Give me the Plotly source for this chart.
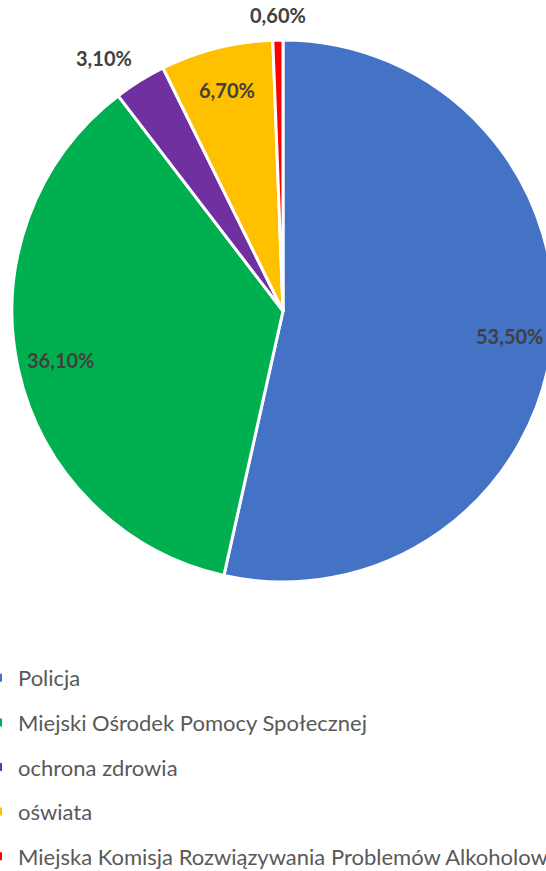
import math
import plotly.graph_objects as go

categories = ["Policja", "Miejski Ośrodek Pomocy Społecznej", "ochrona zdrowia", "oświata",
              "Miejska Komisja Rozwiązywania Problemów Alkoholowych"]
values = [53.5, 36.1, 3.1, 6.7, 0.6]
value_labels = ["53,50%", "36,10%", "3,10%", "6,70%", "0,60%"]
label_outside = [False, False, True, False, True]
colors = ["#4472C4", "#00B050", "#7030A0", "#FFC000", "#FF0000"]

# the figure is a little wider than the 546px window: the pie and the last
# legend entry run past the right edge, as in the reference
W, H = 560, 871
PX0, PX1, PY0, PY1 = 12, 554, 40, 582   # pie domain, pixels
fig = go.Figure()

fig.add_trace(go.Pie(
    labels=categories, values=values,
    textinfo="none",
    marker=dict(colors=colors, line=dict(color="white", width=3)),
    sort=False, direction="clockwise", rotation=0,
    showlegend=False, hoverinfo="label+percent",
    domain=dict(x=[PX0 / W, PX1 / W], y=[1 - PY1 / H, 1 - PY0 / H]),
))

# data labels placed along each slice's mid angle
cx = (PX0 + PX1) / 2
cy = (PY0 + PY1) / 2
R = min(PX1 - PX0, PY1 - PY0) / 2
total = sum(values)
cum = 0
for v, lab, out in zip(values, value_labels, label_outside):
    mid = (cum + v / 2) / total * 2 * math.pi
    cum += v
    s, c = math.sin(mid), math.cos(mid)
    if out:
        f = 1.04
        xa = "center" if abs(s) < 0.2 else ("left" if s > 0 else "right")
        ya = "bottom" if c > 0 else "top"
    else:
        f = 0.84
        xa, ya = "center", "middle"
    px = cx + R * f * s
    py = cy - R * f * c
    fig.add_annotation(
        x=px / W, y=1 - py / H, xref="paper", yref="paper",
        text=lab, showarrow=False, xanchor=xa, yanchor=ya,
        font=dict(family="Lato", size=20, color="#404040", weight="bold"),
    )

for i, (cat, col) in enumerate(zip(categories, colors)):
    fig.add_trace(go.Scatter(
        x=[None], y=[None], mode="markers", name=cat,
        marker=dict(symbol="square", size=8, color=col),
        legendgroup=f"g{i}", showlegend=True,
    ))

fig.update_layout(
    width=W, height=H,
    margin=dict(l=0, r=0, t=0, b=0, autoexpand=False),
    paper_bgcolor="white", plot_bgcolor="white",
    xaxis=dict(visible=False), yaxis=dict(visible=False),
    legend=dict(
        x=-22 / W, xanchor="left", y=1 - 657 / H, yanchor="top",
        font=dict(family="Lato", size=22, color="#595959"),
        traceorder="grouped", tracegroupgap=13,
        bgcolor="rgba(0,0,0,0)",
    ),
)

fig.write_html(
    "out.html",
    config={"displayModeBar": False},
    post_script="document.body.style.margin='0';"
                "document.documentElement.style.overflow='hidden';"
                "document.body.style.overflow='hidden';",
)
